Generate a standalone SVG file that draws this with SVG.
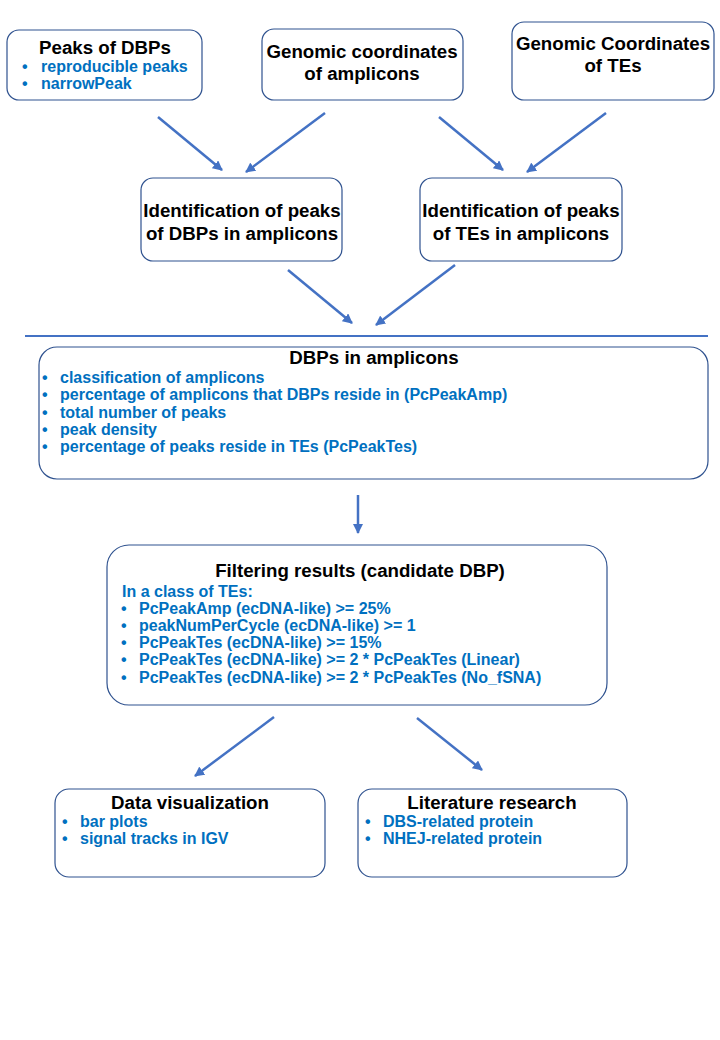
<svg xmlns="http://www.w3.org/2000/svg" width="720" height="1040" viewBox="0 0 720 1040">
<defs>
<marker id="ah" viewBox="0 0 10 10" refX="9" refY="5" markerWidth="4" markerHeight="4" orient="auto" markerUnits="strokeWidth">
<path d="M0,0 L10,5 L0,10 z" fill="#4472C4"/>
</marker>
<style>
.box{fill:#fff;stroke:#2F528F;stroke-width:1.2}
.t{font-family:"Liberation Sans",Arial,sans-serif;font-weight:bold;fill:#000;font-size:18.7px}
.b{font-family:"Liberation Sans",Arial,sans-serif;font-weight:bold;fill:#0070C0;font-size:16px}
.c{text-anchor:middle}
.conn line{stroke:#4472C4;stroke-width:2.5;marker-end:url(#ah)}
</style>
</defs>
<rect width="720" height="1040" fill="#fff"/>
<g id="peaks-dbps">
<rect class="box" x="7" y="30" width="195" height="70" rx="12"/>
<text class="t c" x="105" y="54">Peaks of DBPs</text>
<text class="b" x="22" y="72">•</text><text class="b" x="41" y="72">reproducible peaks</text>
<text class="b" x="22" y="89">•</text><text class="b" x="41" y="89">narrowPeak</text>
</g>
<g id="coords-amplicons">
<rect class="box" x="262" y="29" width="201" height="71" rx="12"/>
<text class="t c" x="362" y="58">Genomic coordinates</text>
<text class="t c" x="362" y="80">of amplicons</text>
</g>
<g id="coords-tes">
<rect class="box" x="512" y="22" width="202" height="78" rx="12"/>
<text class="t c" x="613" y="50">Genomic Coordinates</text>
<text class="t c" x="613" y="72">of TEs</text>
</g>
<g id="ident-dbps">
<rect class="box" x="141" y="178" width="201" height="83" rx="12"/>
<text class="t c" x="242" y="217">Identification of peaks</text>
<text class="t c" x="242" y="240">of DBPs in amplicons</text>
</g>
<g id="ident-tes">
<rect class="box" x="420" y="178" width="202" height="83" rx="12"/>
<text class="t c" x="521" y="217">Identification of peaks</text>
<text class="t c" x="521" y="240">of TEs in amplicons</text>
</g>
<g id="dbps-in-amplicons">
<rect class="box" x="39" y="347" width="669" height="132" rx="18"/>
<text class="t c" x="374" y="364">DBPs in amplicons</text>
<text class="b" x="42" y="383">•</text><text class="b" x="60" y="383">classification of amplicons</text>
<text class="b" x="42" y="400">•</text><text class="b" x="60" y="400">percentage of amplicons that DBPs reside in (PcPeakAmp)</text>
<text class="b" x="42" y="418">•</text><text class="b" x="60" y="418">total number of peaks</text>
<text class="b" x="42" y="435">•</text><text class="b" x="60" y="435">peak density</text>
<text class="b" x="42" y="452">•</text><text class="b" x="60" y="452">percentage of peaks reside in TEs (PcPeakTes)</text>
</g>
<g id="filtering">
<rect class="box" x="107" y="545" width="500" height="160" rx="22"/>
<text class="t c" x="360" y="577">Filtering results (candidate DBP)</text>
<text class="b" x="122" y="597">In a class of TEs:</text>
<text class="b" x="121" y="614">•</text><text class="b" x="139" y="614">PcPeakAmp (ecDNA-like) &gt;= 25%</text>
<text class="b" x="121" y="631">•</text><text class="b" x="139" y="631">peakNumPerCycle (ecDNA-like) &gt;= 1</text>
<text class="b" x="121" y="648">•</text><text class="b" x="139" y="648">PcPeakTes (ecDNA-like) &gt;= 15%</text>
<text class="b" x="121" y="665">•</text><text class="b" x="139" y="665">PcPeakTes (ecDNA-like) &gt;= 2 * PcPeakTes (Linear)</text>
<text class="b" x="121" y="683">•</text><text class="b" x="139" y="683">PcPeakTes (ecDNA-like) &gt;= 2 * PcPeakTes (No_fSNA)</text>
</g>
<g id="data-vis">
<rect class="box" x="55" y="789" width="270" height="88" rx="14"/>
<text class="t c" x="190" y="809">Data visualization</text>
<text class="b" x="62" y="827">•</text><text class="b" x="80" y="827">bar plots</text>
<text class="b" x="62" y="844">•</text><text class="b" x="80" y="844">signal tracks in IGV</text>
</g>
<g id="literature">
<rect class="box" x="358" y="789" width="269" height="88" rx="14"/>
<text class="t c" x="492" y="809">Literature research</text>
<text class="b" x="365" y="827">•</text><text class="b" x="383" y="827">DBS-related protein</text>
<text class="b" x="365" y="844">•</text><text class="b" x="383" y="844">NHEJ-related protein</text>
</g>
<g id="connectors" class="conn">
<line x1="158" y1="117" x2="222" y2="170"/>
<line x1="325" y1="113" x2="246" y2="172"/>
<line x1="439" y1="117" x2="503" y2="170"/>
<line x1="606" y1="113" x2="527" y2="172"/>
<line x1="288" y1="270" x2="352" y2="323"/>
<line x1="455" y1="265" x2="376" y2="325"/>
<line x1="358" y1="495" x2="358" y2="533"/>
<line x1="274" y1="717" x2="195" y2="776"/>
<line x1="417" y1="718" x2="482" y2="770"/>
</g>
<line id="divider" x1="25" y1="336" x2="708" y2="336" stroke="#4472C4" stroke-width="2"/>
</svg>
